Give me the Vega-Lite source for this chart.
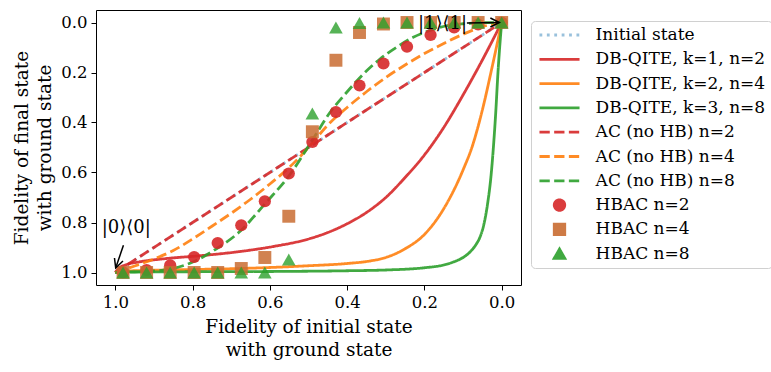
{
  "$schema": "https://vega.github.io/schema/vega-lite/v6.json",
  "width": 425,
  "height": 275,
  "autosize": {"type": "none"},
  "padding": {"left": 96, "top": 10, "right": 250, "bottom": 87},
  "background": "white",
  "config": {
    "view": {"stroke": "black", "strokeWidth": 1},
    "font": "DejaVu Serif",
    "axis": {
      "grid": false,
      "domain": false,
      "tickColor": "black",
      "tickSize": 5,
      "tickWidth": 1,
      "labelFont": "DejaVu Serif",
      "labelFontSize": 16.5,
      "labelColor": "black",
      "labelPadding": 4,
      "titleFont": "DejaVu Serif",
      "titleFontSize": 18.5,
      "titleFontWeight": "normal",
      "titleColor": "black",
      "titleLineHeight": 23
    },
    "axisX": {"titlePadding": 7},
    "axisY": {"titlePadding": 6},
    "legend": {
      "orient": "none",
      "legendX": 435,
      "legendY": 11,
      "labelFont": "DejaVu Serif",
      "labelFontSize": 17,
      "labelColor": "black",
      "labelLimit": 0,
      "symbolSize": 110,
      "symbolStrokeWidth": 2.8,
      "padding": 6,
      "rowPadding": 7.3,
      "clipHeight": 16,
      "symbolOffset": 14,
      "labelOffset": 27.6,
      "strokeColor": "#d0d0d0",
      "fillColor": "white",
      "cornerRadius": 4
    }
  },
  "layer": [
    {
      "data": {
        "values": [
          {"series": "Initial state", "x": 1.0, "y": 1.0},
          {"series": "Initial state", "x": 0.75, "y": 0.75},
          {"series": "Initial state", "x": 0.5, "y": 0.5},
          {"series": "Initial state", "x": 0.25, "y": 0.25},
          {"series": "Initial state", "x": 0.0, "y": 0.0},

          {"series": "DB-QITE, k=1, n=2", "x": 1.0, "y": 1.0},
          {"series": "DB-QITE, k=1, n=2", "x": 0.99, "y": 0.982},
          {"series": "DB-QITE, k=1, n=2", "x": 0.97, "y": 0.968},
          {"series": "DB-QITE, k=1, n=2", "x": 0.936, "y": 0.957},
          {"series": "DB-QITE, k=1, n=2", "x": 0.867, "y": 0.944},
          {"series": "DB-QITE, k=1, n=2", "x": 0.781, "y": 0.933},
          {"series": "DB-QITE, k=1, n=2", "x": 0.677, "y": 0.916},
          {"series": "DB-QITE, k=1, n=2", "x": 0.591, "y": 0.896},
          {"series": "DB-QITE, k=1, n=2", "x": 0.5, "y": 0.866},
          {"series": "DB-QITE, k=1, n=2", "x": 0.45, "y": 0.84},
          {"series": "DB-QITE, k=1, n=2", "x": 0.4, "y": 0.805},
          {"series": "DB-QITE, k=1, n=2", "x": 0.35, "y": 0.76},
          {"series": "DB-QITE, k=1, n=2", "x": 0.3, "y": 0.7},
          {"series": "DB-QITE, k=1, n=2", "x": 0.25, "y": 0.62},
          {"series": "DB-QITE, k=1, n=2", "x": 0.2, "y": 0.53},
          {"series": "DB-QITE, k=1, n=2", "x": 0.15, "y": 0.42},
          {"series": "DB-QITE, k=1, n=2", "x": 0.1, "y": 0.29},
          {"series": "DB-QITE, k=1, n=2", "x": 0.05, "y": 0.15},
          {"series": "DB-QITE, k=1, n=2", "x": 0.0, "y": 0.0},

          {"series": "DB-QITE, k=2, n=4", "x": 1.0, "y": 1.0},
          {"series": "DB-QITE, k=2, n=4", "x": 0.98, "y": 0.995},
          {"series": "DB-QITE, k=2, n=4", "x": 0.9, "y": 0.991},
          {"series": "DB-QITE, k=2, n=4", "x": 0.8, "y": 0.988},
          {"series": "DB-QITE, k=2, n=4", "x": 0.677, "y": 0.984},
          {"series": "DB-QITE, k=2, n=4", "x": 0.5, "y": 0.973},
          {"series": "DB-QITE, k=2, n=4", "x": 0.4, "y": 0.964},
          {"series": "DB-QITE, k=2, n=4", "x": 0.341, "y": 0.954},
          {"series": "DB-QITE, k=2, n=4", "x": 0.3, "y": 0.94},
          {"series": "DB-QITE, k=2, n=4", "x": 0.25, "y": 0.905},
          {"series": "DB-QITE, k=2, n=4", "x": 0.2, "y": 0.848},
          {"series": "DB-QITE, k=2, n=4", "x": 0.15, "y": 0.745},
          {"series": "DB-QITE, k=2, n=4", "x": 0.1, "y": 0.59},
          {"series": "DB-QITE, k=2, n=4", "x": 0.075, "y": 0.49},
          {"series": "DB-QITE, k=2, n=4", "x": 0.05, "y": 0.35},
          {"series": "DB-QITE, k=2, n=4", "x": 0.025, "y": 0.18},
          {"series": "DB-QITE, k=2, n=4", "x": 0.0, "y": 0.0},

          {"series": "DB-QITE, k=3, n=8", "x": 1.0, "y": 1.0},
          {"series": "DB-QITE, k=3, n=8", "x": 0.98, "y": 0.998},
          {"series": "DB-QITE, k=3, n=8", "x": 0.8, "y": 0.997},
          {"series": "DB-QITE, k=3, n=8", "x": 0.6, "y": 0.996},
          {"series": "DB-QITE, k=3, n=8", "x": 0.4, "y": 0.993},
          {"series": "DB-QITE, k=3, n=8", "x": 0.3, "y": 0.99},
          {"series": "DB-QITE, k=3, n=8", "x": 0.2, "y": 0.981},
          {"series": "DB-QITE, k=3, n=8", "x": 0.15, "y": 0.97},
          {"series": "DB-QITE, k=3, n=8", "x": 0.125, "y": 0.958},
          {"series": "DB-QITE, k=3, n=8", "x": 0.1, "y": 0.94},
          {"series": "DB-QITE, k=3, n=8", "x": 0.082, "y": 0.918},
          {"series": "DB-QITE, k=3, n=8", "x": 0.066, "y": 0.887},
          {"series": "DB-QITE, k=3, n=8", "x": 0.056, "y": 0.858},
          {"series": "DB-QITE, k=3, n=8", "x": 0.045, "y": 0.8},
          {"series": "DB-QITE, k=3, n=8", "x": 0.036, "y": 0.72},
          {"series": "DB-QITE, k=3, n=8", "x": 0.028, "y": 0.62},
          {"series": "DB-QITE, k=3, n=8", "x": 0.021, "y": 0.49},
          {"series": "DB-QITE, k=3, n=8", "x": 0.015, "y": 0.35},
          {"series": "DB-QITE, k=3, n=8", "x": 0.01, "y": 0.21},
          {"series": "DB-QITE, k=3, n=8", "x": 0.005, "y": 0.095},
          {"series": "DB-QITE, k=3, n=8", "x": 0.0, "y": 0.0},

          {"series": "AC (no HB) n=2", "x": 1.0, "y": 1.0},
          {"series": "AC (no HB) n=2", "x": 0.8, "y": 0.8},
          {"series": "AC (no HB) n=2", "x": 0.6, "y": 0.6},
          {"series": "AC (no HB) n=2", "x": 0.4, "y": 0.4},
          {"series": "AC (no HB) n=2", "x": 0.2, "y": 0.2},
          {"series": "AC (no HB) n=2", "x": 0.0, "y": 0.0},

          {"series": "AC (no HB) n=4", "x": 1.0, "y": 1.0},
          {"series": "AC (no HB) n=4", "x": 0.95, "y": 0.974},
          {"series": "AC (no HB) n=4", "x": 0.9, "y": 0.946},
          {"series": "AC (no HB) n=4", "x": 0.85, "y": 0.912},
          {"series": "AC (no HB) n=4", "x": 0.8, "y": 0.866},
          {"series": "AC (no HB) n=4", "x": 0.75, "y": 0.815},
          {"series": "AC (no HB) n=4", "x": 0.7, "y": 0.763},
          {"series": "AC (no HB) n=4", "x": 0.65, "y": 0.707},
          {"series": "AC (no HB) n=4", "x": 0.6, "y": 0.646},
          {"series": "AC (no HB) n=4", "x": 0.55, "y": 0.58},
          {"series": "AC (no HB) n=4", "x": 0.5, "y": 0.5},
          {"series": "AC (no HB) n=4", "x": 0.45, "y": 0.41},
          {"series": "AC (no HB) n=4", "x": 0.4, "y": 0.34},
          {"series": "AC (no HB) n=4", "x": 0.35, "y": 0.277},
          {"series": "AC (no HB) n=4", "x": 0.3, "y": 0.22},
          {"series": "AC (no HB) n=4", "x": 0.25, "y": 0.17},
          {"series": "AC (no HB) n=4", "x": 0.2, "y": 0.124},
          {"series": "AC (no HB) n=4", "x": 0.15, "y": 0.084},
          {"series": "AC (no HB) n=4", "x": 0.1, "y": 0.047},
          {"series": "AC (no HB) n=4", "x": 0.05, "y": 0.017},
          {"series": "AC (no HB) n=4", "x": 0.0, "y": 0.0},

          {"series": "AC (no HB) n=8", "x": 1.0, "y": 1.0},
          {"series": "AC (no HB) n=8", "x": 0.95, "y": 0.998},
          {"series": "AC (no HB) n=8", "x": 0.9, "y": 0.994},
          {"series": "AC (no HB) n=8", "x": 0.85, "y": 0.984},
          {"series": "AC (no HB) n=8", "x": 0.798, "y": 0.957},
          {"series": "AC (no HB) n=8", "x": 0.737, "y": 0.904},
          {"series": "AC (no HB) n=8", "x": 0.677, "y": 0.835},
          {"series": "AC (no HB) n=8", "x": 0.612, "y": 0.724},
          {"series": "AC (no HB) n=8", "x": 0.548, "y": 0.608},
          {"series": "AC (no HB) n=8", "x": 0.49, "y": 0.47},
          {"series": "AC (no HB) n=8", "x": 0.444, "y": 0.359},
          {"series": "AC (no HB) n=8", "x": 0.401, "y": 0.279},
          {"series": "AC (no HB) n=8", "x": 0.358, "y": 0.206},
          {"series": "AC (no HB) n=8", "x": 0.315, "y": 0.146},
          {"series": "AC (no HB) n=8", "x": 0.272, "y": 0.099},
          {"series": "AC (no HB) n=8", "x": 0.229, "y": 0.059},
          {"series": "AC (no HB) n=8", "x": 0.186, "y": 0.032},
          {"series": "AC (no HB) n=8", "x": 0.142, "y": 0.013},
          {"series": "AC (no HB) n=8", "x": 0.099, "y": 0.005},
          {"series": "AC (no HB) n=8", "x": 0.05, "y": 0.001},
          {"series": "AC (no HB) n=8", "x": 0.0, "y": 0.0}
        ]
      },
      "mark": {"type": "line", "strokeWidth": 2.8, "opacity": 0.9, "interpolate": "monotone"},
      "encoding": {
        "x": {
          "field": "x", "type": "quantitative",
          "scale": {"domain": [-0.05, 1.05], "reverse": true, "nice": false, "zero": false},
          "axis": {"values": [0, 0.2, 0.4, 0.6, 0.8, 1.0], "format": ".1f", "title": ["Fidelity of initial state", "with ground state"]}
        },
        "y": {
          "field": "y", "type": "quantitative",
          "scale": {"domain": [-0.05, 1.05], "reverse": true, "nice": false, "zero": false},
          "axis": {"values": [0, 0.2, 0.4, 0.6, 0.8, 1.0], "format": ".1f", "title": ["Fidelity of final state", "with ground state"]}
        },
        "color": {
          "field": "series", "type": "nominal",
          "scale": {
            "domain": ["Initial state", "DB-QITE, k=1, n=2", "DB-QITE, k=2, n=4", "DB-QITE, k=3, n=8", "AC (no HB) n=2", "AC (no HB) n=4", "AC (no HB) n=8", "HBAC n=2", "HBAC n=4", "HBAC n=8"],
            "range": ["#8fbbd9", "#d62728", "#ff7f0e", "#2ca02c", "#d62728", "#ff7f0e", "#2ca02c", "#d62728", "#c96c31", "#2ca02c"]
          },
          "legend": {
            "title": null,
            "encode": {
              "symbols": {
                "update": {
                  "size": {"signal": "datum.value == 'HBAC n=2' ? 150 : datum.value == 'HBAC n=4' ? 185 : datum.value == 'HBAC n=8' ? 200 : 110"},
                  "strokeWidth": {"signal": "indexof(['HBAC n=2', 'HBAC n=4', 'HBAC n=8'], datum.value) >= 0 ? 0 : 2.8"},
                  "opacity": {"signal": "datum.value == 'HBAC n=2' ? 0.9 : datum.value == 'HBAC n=4' ? 0.8 : datum.value == 'HBAC n=8' ? 0.5 : 0.9"}
                }
              }
            }
          }
        },
        "strokeDash": {
          "field": "series", "type": "nominal",
          "scale": {
            "domain": ["Initial state", "DB-QITE, k=1, n=2", "DB-QITE, k=2, n=4", "DB-QITE, k=3, n=8", "AC (no HB) n=2", "AC (no HB) n=4", "AC (no HB) n=8", "HBAC n=2", "HBAC n=4", "HBAC n=8"],
            "range": [[2.8, 4.6], [1, 0], [1, 0], [1, 0], [10.3, 4.4], [10.3, 4.4], [10.3, 4.4], [1, 0], [1, 0], [1, 0]]
          },
          "legend": {"title": null}
        }
      }
    },
    {
      "data": {
        "values": [
          {"series": "HBAC n=2", "x": 0.98, "y": 0.999},
          {"series": "HBAC n=2", "x": 0.919, "y": 0.99},
          {"series": "HBAC n=2", "x": 0.858, "y": 0.971},
          {"series": "HBAC n=2", "x": 0.796, "y": 0.938},
          {"series": "HBAC n=2", "x": 0.735, "y": 0.882},
          {"series": "HBAC n=2", "x": 0.674, "y": 0.811},
          {"series": "HBAC n=2", "x": 0.613, "y": 0.715},
          {"series": "HBAC n=2", "x": 0.551, "y": 0.604},
          {"series": "HBAC n=2", "x": 0.49, "y": 0.478},
          {"series": "HBAC n=2", "x": 0.429, "y": 0.358},
          {"series": "HBAC n=2", "x": 0.368, "y": 0.252},
          {"series": "HBAC n=2", "x": 0.306, "y": 0.164},
          {"series": "HBAC n=2", "x": 0.245, "y": 0.097},
          {"series": "HBAC n=2", "x": 0.184, "y": 0.05},
          {"series": "HBAC n=2", "x": 0.123, "y": 0.02},
          {"series": "HBAC n=2", "x": 0.061, "y": 0.008},
          {"series": "HBAC n=2", "x": 0.0, "y": 0.0},

          {"series": "HBAC n=4", "x": 0.98, "y": 1.0},
          {"series": "HBAC n=4", "x": 0.919, "y": 1.0},
          {"series": "HBAC n=4", "x": 0.858, "y": 1.0},
          {"series": "HBAC n=4", "x": 0.796, "y": 1.0},
          {"series": "HBAC n=4", "x": 0.735, "y": 1.0},
          {"series": "HBAC n=4", "x": 0.674, "y": 0.984},
          {"series": "HBAC n=4", "x": 0.613, "y": 0.94},
          {"series": "HBAC n=4", "x": 0.551, "y": 0.775},
          {"series": "HBAC n=4", "x": 0.49, "y": 0.437},
          {"series": "HBAC n=4", "x": 0.429, "y": 0.151},
          {"series": "HBAC n=4", "x": 0.368, "y": 0.04},
          {"series": "HBAC n=4", "x": 0.306, "y": 0.006},
          {"series": "HBAC n=4", "x": 0.245, "y": 0.0},
          {"series": "HBAC n=4", "x": 0.184, "y": 0.0},
          {"series": "HBAC n=4", "x": 0.123, "y": 0.0},
          {"series": "HBAC n=4", "x": 0.061, "y": 0.0},
          {"series": "HBAC n=4", "x": 0.0, "y": 0.0},

          {"series": "HBAC n=8", "x": 0.98, "y": 1.0},
          {"series": "HBAC n=8", "x": 0.919, "y": 1.0},
          {"series": "HBAC n=8", "x": 0.858, "y": 1.0},
          {"series": "HBAC n=8", "x": 0.796, "y": 1.0},
          {"series": "HBAC n=8", "x": 0.735, "y": 1.0},
          {"series": "HBAC n=8", "x": 0.674, "y": 1.0},
          {"series": "HBAC n=8", "x": 0.613, "y": 1.0},
          {"series": "HBAC n=8", "x": 0.551, "y": 0.948},
          {"series": "HBAC n=8", "x": 0.49, "y": 0.364},
          {"series": "HBAC n=8", "x": 0.429, "y": 0.02},
          {"series": "HBAC n=8", "x": 0.368, "y": 0.002},
          {"series": "HBAC n=8", "x": 0.306, "y": 0.0},
          {"series": "HBAC n=8", "x": 0.245, "y": 0.0},
          {"series": "HBAC n=8", "x": 0.184, "y": 0.0},
          {"series": "HBAC n=8", "x": 0.123, "y": 0.0},
          {"series": "HBAC n=8", "x": 0.061, "y": 0.0},
          {"series": "HBAC n=8", "x": 0.0, "y": 0.0}
        ]
      },
      "mark": {"type": "point", "filled": true, "strokeWidth": 0},
      "encoding": {
        "x": {"field": "x", "type": "quantitative"},
        "y": {"field": "y", "type": "quantitative"},
        "color": {"field": "series", "type": "nominal"},
        "shape": {
          "field": "series", "type": "nominal",
          "scale": {
            "domain": ["Initial state", "DB-QITE, k=1, n=2", "DB-QITE, k=2, n=4", "DB-QITE, k=3, n=8", "AC (no HB) n=2", "AC (no HB) n=4", "AC (no HB) n=8", "HBAC n=2", "HBAC n=4", "HBAC n=8"],
            "range": ["M-3.82,0L3.82,0", "M-3.82,0L3.82,0", "M-3.82,0L3.82,0", "M-3.82,0L3.82,0", "M-3.82,0L3.82,0", "M-3.82,0L3.82,0", "M-3.82,0L3.82,0", "circle", "square", "triangle-up"]
          },
          "legend": {"title": null}
        },
        "opacity": {
          "field": "series", "type": "nominal",
          "scale": {
            "domain": ["HBAC n=2", "HBAC n=4", "HBAC n=8"],
            "range": [0.9, 0.8, 0.5]
          },
          "legend": null
        },
        "size": {
          "field": "series", "type": "nominal",
          "scale": {
            "domain": ["HBAC n=2", "HBAC n=4", "HBAC n=8"],
            "range": [150, 185, 200]
          },
          "legend": null
        }
      }
    },
    {
      "data": {
        "values": [
          {"x": 0.979, "y": 0.891, "x2": 0.999, "y2": 0.982},
          {"x": 0.09, "y": 0.002, "x2": 0.006, "y2": 0.0}
        ]
      },
      "mark": {"type": "rule", "color": "black", "strokeWidth": 1.5},
      "encoding": {
        "x": {"field": "x", "type": "quantitative"},
        "y": {"field": "y", "type": "quantitative"},
        "x2": {"field": "x2"},
        "y2": {"field": "y2"}
      }
    },
    {
      "data": {"values": [{"x": 0.999, "y": 0.982}]},
      "mark": {"type": "point", "shape": "M-2,-1L0,0L-2,1", "filled": false, "color": "black", "strokeWidth": 1.5, "size": 81, "angle": 109.6, "opacity": 1},
      "encoding": {
        "x": {"field": "x", "type": "quantitative"},
        "y": {"field": "y", "type": "quantitative"}
      }
    },
    {
      "data": {"values": [{"x": 0.006, "y": 0.0}]},
      "mark": {"type": "point", "shape": "M-2,-1L0,0L-2,1", "filled": false, "color": "black", "strokeWidth": 1.5, "size": 81, "angle": 0, "opacity": 1},
      "encoding": {
        "x": {"field": "x", "type": "quantitative"},
        "y": {"field": "y", "type": "quantitative"}
      }
    },
    {
      "data": {
        "values": [
          {"label": "|0⟩⟨0|", "x": 0.9715, "y": 0.823},
          {"label": "|1⟩⟨1|", "x": 0.153, "y": 0.004}
        ]
      },
      "mark": {"type": "text", "fontSize": 18, "font": "DejaVu Serif", "align": "center", "baseline": "middle", "color": "black"},
      "encoding": {
        "x": {"field": "x", "type": "quantitative"},
        "y": {"field": "y", "type": "quantitative"},
        "text": {"field": "label"}
      }
    }
  ]
}
